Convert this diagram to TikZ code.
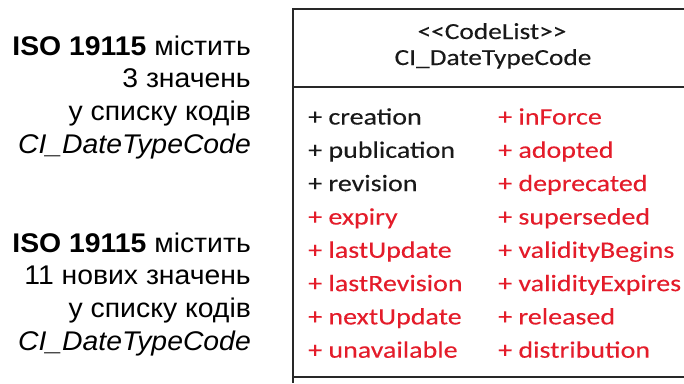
\documentclass[tikz,border=0pt]{standalone}
\usepackage{fontspec}
\setmainfont{Liberation Sans}[FakeStretch=1.05]
\newfontfamily\boxfont{Carlito}[FakeStretch=1.19,FakeBold=0.15]
\definecolor{newred}{RGB}{228,28,42}
\definecolor{oldblk}{RGB}{25,25,25}
\definecolor{frame}{RGB}{40,40,40}
\begin{document}
\begin{tikzpicture}[x=1pt,y=-1pt,
  lefttxt/.style={anchor=base east,inner sep=0pt,font=\fontsize{27}{30}\selectfont},
  boxtitle/.style={anchor=base,inner sep=0pt,font=\boxfont\fontsize{23}{27}\selectfont,text=oldblk},
  item/.style={anchor=base west,inner sep=0pt,font=\boxfont\fontsize{23.5}{27}\selectfont},
  olditem/.style={item,text=oldblk},
  newitem/.style={item,text=newred},
  frameline/.style={draw=frame,line width=1.3pt}]
\useasboundingbox (0,0) rectangle (684,383);
\fill[white] (0,0) rectangle (684,383);
% left text
\node[lefttxt] (a1) at (251,55) {\textbf{ISO 19115} містить};
\node[lefttxt] (a2) at (251,87.7) {3 значень};
\node[lefttxt] (a3) at (251,120.4) {у списку кодів};
\node[lefttxt] (a4) at (251,153) {\textit{CI\_DateTypeCode}};
\node[lefttxt] (b1) at (251,252) {\textbf{ISO 19115} містить};
\node[lefttxt] (b2) at (251,284.7) {11 нових значень};
\node[lefttxt] (b3) at (251,317.4) {у списку кодів};
\node[lefttxt] (b4) at (251,350) {\textit{CI\_DateTypeCode}};
% box frame
\coordinate (tl) at (293,9);
\coordinate (tr) at (684,9);
\coordinate (bl) at (293,383);
\coordinate (d1l) at (293,87);
\coordinate (d1r) at (684,87);
\coordinate (d2l) at (293,377);
\coordinate (d2r) at (684,377);
\draw[frameline] (tr) -- (tl) -- (bl);
\draw[frameline] (d1l) -- (d1r);
\draw[frameline] (d2l) -- (d2r);
% title
\node[boxtitle] (t1) at (492,39) {<{}<CodeList>{}>};
\node[boxtitle] (t2) at (493,65) {CI\_DateTypeCode};
% left column
\node[olditem] (l1) at (308,124.5) {+ creation};
\node[olditem] (l2) at (308,157.8) {+ publication};
\node[olditem] (l3) at (308,191.1) {+ revision};
\node[newitem] (l4) at (308,224.5) {+ expiry};
\node[newitem] (l5) at (308,257.8) {+ lastUpdate};
\node[newitem] (l6) at (308,291.1) {+ lastRevision};
\node[newitem] (l7) at (308,324.4) {+ nextUpdate};
\node[newitem] (l8) at (308,357.7) {+ unavailable};
% right column
\node[newitem] (r1) at (498,124.5) {+ inForce};
\node[newitem] (r2) at (498,157.8) {+ adopted};
\node[newitem] (r3) at (498,191.1) {+ deprecated};
\node[newitem] (r4) at (498,224.5) {+ superseded};
\node[newitem] (r5) at (498,257.8) {+ validityBegins};
\node[newitem] (r6) at (498,291.1) {+ validityExpires};
\node[newitem] (r7) at (498,324.4) {+ released};
\node[newitem] (r8) at (498,357.7) {+ distribution};
\end{tikzpicture}
\end{document}
